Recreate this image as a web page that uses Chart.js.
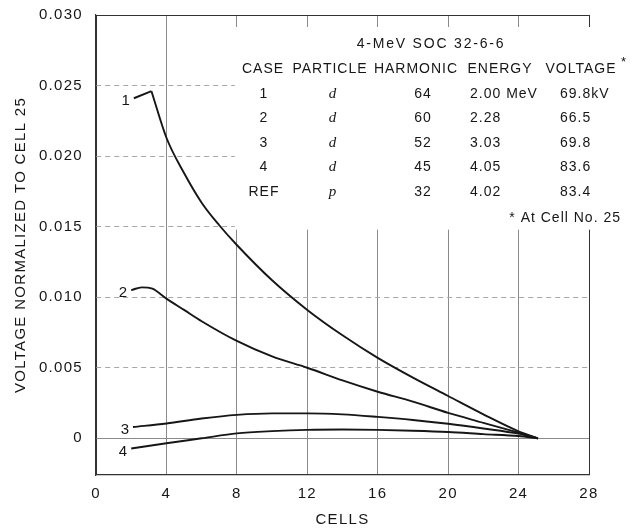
<!DOCTYPE html>
<html>
<head>
<meta charset="utf-8">
<script src="https://cdn.jsdelivr.net/npm/chart.js@4.4.1/dist/chart.umd.min.js"></script>
<style>
  html, body { margin: 0; padding: 0; background: #fff; }
  #wrap { width: 636px; height: 529px; }
</style>
</head>
<body>
<div id="wrap"><canvas id="chart"></canvas></div>
<script>
// axis ticks
const X_TICKS = [0, 4, 8, 12, 16, 20, 24, 28];
const Y_TICKS = [0, 0.005, 0.010, 0.015, 0.020, 0.025, 0.030];

// curves (cells, normalized voltage)
const CASE1_LEAD_X = [2.15, 3.15];
const CASE1_LEAD_Y = [0.0241, 0.0246];
const CASE1_X = [3.15, 4, 5, 6, 7, 8, 10, 12, 14, 16, 18, 20, 22, 24, 25.1];
const CASE1_Y = [0.0246, 0.0213, 0.0188, 0.0167, 0.0151, 0.0137, 0.0112, 0.0091, 0.0073, 0.0057, 0.0043, 0.0030, 0.0017, 0.0005, 0];
const CASE2_X = [2.0, 2.6, 3.2, 4, 5, 6, 8, 10, 12, 14, 16, 18, 20, 22, 24, 25.1];
const CASE2_Y = [0.0105, 0.0107, 0.0106, 0.0099, 0.0091, 0.0083, 0.0069, 0.0058, 0.0050, 0.0041, 0.0033, 0.0026, 0.0018, 0.0011, 0.0004, 0];
const CASE3_X = [2.1, 4, 6, 8, 10, 12, 14, 16, 18, 20, 22, 24, 25.1];
const CASE3_Y = [0.0008, 0.00105, 0.0014, 0.00166, 0.00177, 0.00177, 0.0017, 0.00152, 0.0013, 0.00103, 0.0007, 0.00033, 0];
const CASE4_X = [2.0, 4, 6, 8, 10, 12, 14, 16, 18, 20, 22, 24, 25.1];
const CASE4_Y = [-0.00072, -0.00035, 0, 0.00035, 0.00051, 0.0006, 0.00062, 0.0006, 0.00054, 0.00045, 0.0003, 0.00016, 0];
const CURVE_LABELS = ['1', '2', '3', '4'];

// table inside the plot
const TABLE_TITLE = '4-MeV SOC 32-6-6';
const TABLE_HEAD = ['CASE', 'PARTICLE', 'HARMONIC', 'ENERGY', 'VOLTAGE'];
const TABLE_CASE = ['1', '2', '3', '4', 'REF'];
const TABLE_PARTICLE = ['d', 'd', 'd', 'd', 'p'];
const TABLE_HARMONIC = ['64', '60', '52', '45', '32'];
const TABLE_ENERGY = ['2.00 MeV', '2.28', '3.03', '4.05', '4.02'];
const TABLE_VOLTAGE = ['69.8kV', '66.5', '69.8', '83.6', '83.4'];
const FOOTNOTE = '* At Cell No. 25';

const FONT = '"Liberation Sans", Arial, sans-serif';
const INK = '#161616';

function pts(xs, ys) {
  return xs.map((x, i) => ({ x: x, y: ys[i] }));
}

function curve(xs, ys, mode) {
  return {
    data: pts(xs, ys),
    borderColor: INK,
    borderWidth: 1.9,
    pointRadius: 0,
    pointHoverRadius: 0,
    fill: false,
    cubicInterpolationMode: mode,
    tension: 0
  };
}

// letter spacing for chart text (canvas state is reset on resize, so set it each draw)
const spacingPlugin = {
  id: 'spacing',
  beforeDraw(chart) {
    chart.ctx.letterSpacing = '1.3px';
  },
  // grid is left out behind the table, like on the drawing
  beforeDatasetsDraw(chart) {
    const ctx = chart.ctx;
    const xs = chart.scales.x, ys = chart.scales.y;
    const left = xs.getPixelForValue(8) - 2;
    const top = chart.chartArea.top + 12;
    const bottom = ys.getPixelForValue(0.015) + 3;
    ctx.save();
    ctx.fillStyle = '#fff';
    ctx.fillRect(left, top, chart.chartArea.right + 8 - left, bottom - top);
    ctx.restore();
  }
};

// curve numbers and the case table
const notesPlugin = {
  id: 'notes',
  afterDraw(chart) {
    const ctx = chart.ctx;
    const xs = chart.scales.x, ys = chart.scales.y;
    ctx.save();
    ctx.fillStyle = INK;
    ctx.letterSpacing = '0px';
    ctx.font = '15px ' + FONT;
    ctx.textAlign = 'right';
    ctx.textBaseline = 'middle';
    const starts = [[CASE1_LEAD_X[0], CASE1_LEAD_Y[0]], [CASE2_X[0], CASE2_Y[0]], [CASE3_X[0], CASE3_Y[0]], [CASE4_X[0], CASE4_Y[0]]];
    starts.forEach((p, i) => {
      ctx.fillText(CURVE_LABELS[i], xs.getPixelForValue(p[0]) - 4, ys.getPixelForValue(p[1]) + 3);
    });

    ctx.letterSpacing = '1.8px';
    ctx.font = '14px ' + FONT;
    ctx.textAlign = 'center';
    ctx.fillText(TABLE_TITLE, 431, 44);

    ctx.letterSpacing = '1px';
    const headX = [263, 330, 416, 500, 581];
    TABLE_HEAD.forEach((h, i) => ctx.fillText(h, headX[i], 69));
    ctx.font = '13px ' + FONT;
    ctx.fillText('*', 624, 62);

    const rowY = [94, 118, 143, 167, 192];
    rowY.forEach((y, r) => {
      ctx.font = '14px ' + FONT;
      ctx.textAlign = 'center';
      ctx.fillText(TABLE_CASE[r], 264, y);
      ctx.fillText(TABLE_HARMONIC[r], 423, y);
      ctx.textAlign = 'left';
      ctx.fillText(TABLE_ENERGY[r], 470, y);
      ctx.fillText(TABLE_VOLTAGE[r], 560, y);
      ctx.font = 'italic 15px "Liberation Serif", serif';
      ctx.textAlign = 'center';
      ctx.fillText(TABLE_PARTICLE[r], 333, y);
    });

    ctx.font = '14px ' + FONT;
    ctx.textAlign = 'right';
    ctx.fillText(FOOTNOTE, 621, 218);
    ctx.restore();
  }
};

new Chart(document.getElementById('chart'), {
  type: 'line',
  data: {
    datasets: [
      curve(CASE1_LEAD_X, CASE1_LEAD_Y, 'default'),
      curve(CASE1_X, CASE1_Y, 'monotone'),
      curve(CASE2_X, CASE2_Y, 'monotone'),
      curve(CASE3_X, CASE3_Y, 'monotone'),
      curve(CASE4_X, CASE4_Y, 'monotone')
    ]
  },
  options: {
    responsive: true,
    maintainAspectRatio: false,
    animation: false,
    layout: { autoPadding: false, padding: { left: 12, top: 15, right: 47, bottom: 0 } },
    plugins: {
      legend: { display: false },
      tooltip: { enabled: false }
    },
    scales: {
      x: {
        type: 'linear',
        min: 0,
        max: 28,
        afterBuildTicks: (s) => { s.ticks = X_TICKS.map(v => ({ value: v })); },
        afterFit: (s) => { s.height = 54; },
        grid: {
          drawTicks: false,
          lineWidth: 1,
          color: (c) => (c.tick && (c.tick.value === 0 || c.tick.value === 28)) ? '#333' : '#8a8a8a'
        },
        border: { color: '#333', width: 1.2 },
        ticks: {
          color: INK,
          padding: 10,
          maxRotation: 0,
          font: { family: FONT, size: 15 },
          callback: (v) => String(v)
        },
        title: {
          display: true,
          text: 'CELLS',
          color: INK,
          padding: { top: 0, bottom: 0 },
          font: { family: FONT, size: 15 }
        }
      },
      y: {
        type: 'linear',
        min: -0.0026,
        max: 0.030,
        afterBuildTicks: (s) => { s.ticks = Y_TICKS.map(v => ({ value: v })); },
        afterFit: (s) => { s.width = 84; s.paddingTop = 0; s.paddingBottom = 0; },
        grid: {
          drawTicks: false,
          lineWidth: 1,
          color: (c) => {
            if (!c.tick) return '#333';
            if (c.tick.value === 0.030) return '#333';
            if (c.tick.value === 0) return '#8a8a8a';
            return '#a8a8a8';
          }
        },
        border: {
          color: '#333',
          width: 1.2,
          dash: (c) => (c.tick && c.tick.value !== 0 && c.tick.value !== 0.030) ? [5, 4] : []
        },
        ticks: {
          color: INK,
          padding: 13,
          font: { family: FONT, size: 15 },
          callback: (v) => v === 0 ? '0' : v.toFixed(3)
        },
        title: {
          display: true,
          text: 'VOLTAGE NORMALIZED TO CELL 25',
          color: INK,
          padding: { top: 0, bottom: 0 },
          font: { family: FONT, size: 15 }
        }
      }
    }
  },
  plugins: [spacingPlugin, notesPlugin]
});
</script>
</body>
</html>
